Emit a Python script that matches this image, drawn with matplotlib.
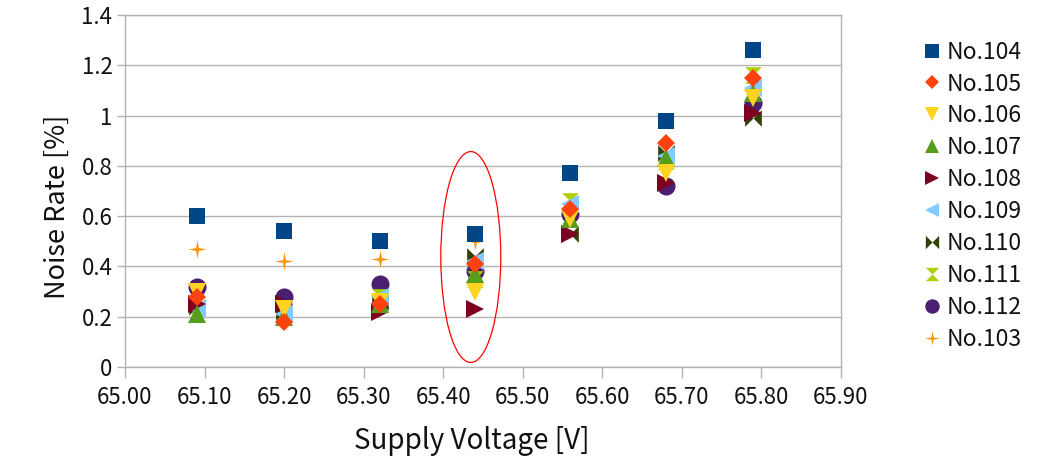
import matplotlib
matplotlib.use("Agg")
import matplotlib.pyplot as plt
from matplotlib.patches import Ellipse
from matplotlib.path import Path

plt.rcParams['font.family'] = ['Noto Sans CJK JP', 'DejaVu Sans']

# Supply voltage settings [V]
voltage = [65.09, 65.20, 65.32, 65.44, 65.56, 65.68, 65.79]

# Noise rate [%] per unit
no104 = [0.60, 0.54, 0.50, 0.53, 0.77, 0.98, 1.26]
no105 = [0.28, 0.18, 0.25, 0.41, 0.63, 0.89, 1.15]
no106 = [0.30, 0.23, 0.26, 0.30, 0.59, 0.77, 1.07]
no107 = [0.21, 0.20, 0.25, 0.37, 0.59, 0.83, 1.09]
no108 = [0.25, 0.25, 0.22, 0.23, 0.53, 0.73, 1.01]
no109 = [0.23, 0.21, 0.28, 0.42, 0.65, 0.84, 1.11]
no110 = [0.24, 0.22, 0.26, 0.44, 0.53, 0.85, 0.99]
no111 = [0.25, 0.21, 0.28, 0.35, 0.66, 0.82, 1.16]
no112 = [0.32, 0.28, 0.33, 0.38, 0.61, 0.72, 1.05]
no103 = [0.47, 0.42, 0.43, 0.50, 0.60, 0.82, 1.10]

labels = ["No.104", "No.105", "No.106", "No.107", "No.108",
          "No.109", "No.110", "No.111", "No.112", "No.103"]
series = [no104, no105, no106, no107, no108, no109, no110, no111, no112, no103]
colors = ["#004586", "#ff420e", "#ffd320", "#579d1c", "#7e0021",
          "#83caff", "#314004", "#aecf00", "#4b1f6f", "#ff950e"]

star4 = Path([(0, 1), (0.16, 0.16), (1, 0), (0.16, -0.16), (0, -1),
              (-0.16, -0.16), (-1, 0), (-0.16, 0.16), (0, 1)])
bowtie = Path([(-1, 1), (0, 0), (1, 1), (1, -1), (0, 0), (-1, -1), (-1, 1)])
hourglass = Path([(-1, 1), (1, 1), (0, 0), (1, -1), (-1, -1), (0, 0), (-1, 1)])

markers = ["s", "D", "v", "^", ">", "<", bowtie, hourglass, "o", star4]
sizes = [12, 9.5, 13, 13, 13, 13, 12, 12, 13, 13]

fig = plt.figure(figsize=(10.43, 4.62), dpi=100)
ax = fig.add_axes([0.1198, 0.2056, 0.8063 - 0.1198, 0.9675 - 0.2056])

n = len(series)
for i, (vals, lab, col, mk, ms) in enumerate(zip(series, labels, colors, markers, sizes)):
    ax.plot(voltage, vals, linestyle="none", marker=mk, markersize=ms,
            color=col, markeredgewidth=0, label=lab, zorder=10 + n - i)

ax.set_xlim(65.0, 65.9)
ax.set_ylim(0, 1.4)
ax.set_xticks([65.0 + 0.1 * k for k in range(10)])
ax.set_xticklabels([f"{65.0 + 0.1 * k:.2f}" for k in range(10)])
ax.set_yticks([0, 0.2, 0.4, 0.6, 0.8, 1.0, 1.2, 1.4])
ax.set_yticklabels(["0", "0.2", "0.4", "0.6", "0.8", "1", "1.2", "1.4"])

grid_c = "#b3b3b3"
ax.yaxis.grid(True, color=grid_c, linewidth=1.0)
ax.set_axisbelow(True)
for sp in ax.spines.values():
    sp.set_color(grid_c)
    sp.set_linewidth(1.0)
ax.tick_params(axis="x", direction="out", length=8, width=1, color=grid_c,
               labelsize=16, pad=6, labelcolor="#111111")
ax.tick_params(axis="y", direction="out", length=6, width=1, color=grid_c,
               labelsize=16, pad=3, labelcolor="#111111")

ax.set_xlabel("Supply Voltage [V]", fontsize=20, labelpad=12, color="#111111")
ax.set_ylabel("Noise Rate [%]", fontsize=19.5, labelpad=8, color="#111111")
ax.xaxis.label.set_x(0.485)
ax.yaxis.label.set_y(0.455)

# highlight ring around the 65.44 V group
ax.add_patch(Ellipse((65.4347, 0.4375), 0.0754, 0.839, fill=False,
                     edgecolor="red", linewidth=0.9, zorder=30))

leg = ax.legend(loc="upper left", bbox_to_anchor=(0.874, 0.937),
                bbox_transform=fig.transFigure, frameon=False,
                fontsize=16.5, markerscale=0.8, handlelength=0.75,
                handletextpad=0.3, labelspacing=0.39, borderpad=0)
for t in leg.get_texts():
    t.set_color("#111111")

fig.savefig("out.png", dpi=100)
